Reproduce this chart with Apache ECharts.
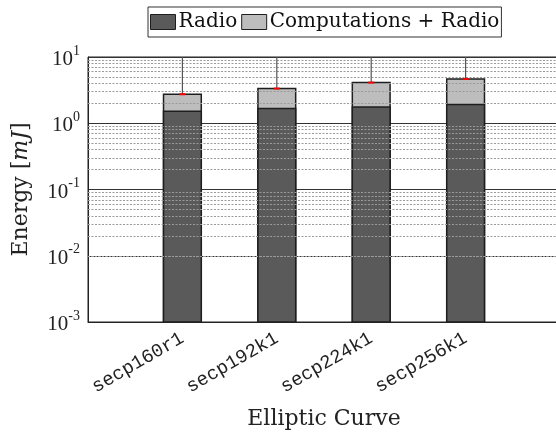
<!DOCTYPE html>
<html><head><meta charset="utf-8">
<script src="https://cdn.jsdelivr.net/npm/echarts@6/dist/echarts.min.js"></script>
<style>html,body{margin:0;padding:0;background:#fff}#c{width:556px;height:436px}</style>
</head><body><div id="c"></div>
<script>
const categories = ['secp160r1', 'secp192k1', 'secp224k1', 'secp256k1'];
const radio = [1.52, 1.67, 1.76, 1.92];
const total = [2.74, 3.34, 4.11, 4.66];
const errHigh = [12, 12, 12, 12];
const yMin = 0.001, yMax = 10;
const minorValues = [];
for (let k = -3; k <= 0; k++) for (let m = 2; m <= 9; m++) minorValues.push(m * Math.pow(10, k));

const SERIF = 'DejaVu Serif';
const NUMSERIF = 'Liberation Serif';
const DARK = '#5a5a5a', LIGHT = '#bdbdbd', EDGE = '#1e1e1e';

function barRender(color) {
  return function (params, api) {
    const x = api.value(0), v = api.value(1);
    const top = api.coord([x, v]);
    const base = api.coord([x, yMin]);
    const unit = api.coord([x + 1, v])[0] - top[0];
    const w = unit * 0.4;
    return { type: 'rect', shape: { x: top[0] - w / 2, y: top[1], width: w, height: base[1] - top[1] },
      style: { fill: color, stroke: EDGE, lineWidth: 1.5 } };
  };
}

const chart = echarts.init(document.getElementById('c'), null, { renderer: 'canvas' });
chart.setOption({
  animation: false,
  grid: { left: 88, width: 472, top: 57, bottom: 114, show: true, borderColor: '#222', borderWidth: 1,
    containLabel: false, outerBoundsMode: 'none' },
  legend: {
    left: 148, top: 7, padding: [5, 2, 5, 2], borderColor: '#333', borderWidth: 1,
    itemGap: 4, itemWidth: 25, itemHeight: 15,
    textStyle: { fontFamily: SERIF, fontSize: 20, color: '#111', padding: [0, 0, 0, -2] },
    data: [
      { name: 'Radio', icon: 'rect', itemStyle: { color: DARK, borderColor: EDGE, borderWidth: 1 } },
      { name: 'Computations + Radio', icon: 'rect', itemStyle: { color: LIGHT, borderColor: EDGE, borderWidth: 1 } }
    ]
  },
  xAxis: {
    type: 'value', min: 0, max: 5, interval: 1,
    name: 'Elliptic Curve', nameLocation: 'middle', nameGap: 86,
    nameTextStyle: { fontFamily: SERIF, fontSize: 22, color: '#222' },
    axisLine: { lineStyle: { color: '#222', width: 1 } },
    axisTick: { show: false },
    splitLine: { show: false },
    axisLabel: {
      rotate: 30, margin: 15, fontFamily: 'Liberation Mono', fontSize: 19, color: '#222',
      formatter: v => categories[v - 1] || ''
    }
  },
  yAxis: {
    type: 'log', logBase: 10, min: yMin, max: yMax, splitNumber: 4,
    name: 'Energy [{i|mJ}]', nameLocation: 'middle', nameGap: 56,
    nameTextStyle: { fontFamily: SERIF, fontSize: 22, color: '#222',
      rich: { i: { fontFamily: SERIF, fontStyle: 'italic', fontSize: 22, color: '#222' } } },
    axisLine: { show: true, lineStyle: { color: '#222', width: 1 } },
    axisTick: { show: false },
    splitLine: { show: true, lineStyle: { color: '#333', width: 1 } },
    axisLabel: {
      margin: 8, color: '#222',
      formatter: v => '{b|10}{s|' + Math.round(Math.log10(v)) + '}',
      rich: {
        b: { fontFamily: NUMSERIF, fontSize: 21, color: '#222', lineHeight: 26, verticalAlign: 'bottom' },
        s: { fontFamily: NUMSERIF, fontSize: 14, color: '#222', lineHeight: 26, verticalAlign: 'top' }
      }
    }
  },
  series: [
    {
      type: 'line', name: 'grid', data: [], silent: true, z: 1,
      markLine: { silent: true, symbol: 'none', label: { show: false },
        lineStyle: { color: '#9a9a9a', width: 1, type: [2, 1.5] },
        data: minorValues.map(v => ({ yAxis: v })) }
    },
    {
      type: 'custom', name: 'Computations + Radio', z: 3, clip: true,
      itemStyle: { color: LIGHT, borderColor: EDGE, borderWidth: 1 },
      renderItem: barRender(LIGHT),
      data: total.map((v, i) => [i + 1, v])
    },
    {
      type: 'custom', name: 'Radio', z: 4, clip: true,
      itemStyle: { color: DARK, borderColor: EDGE, borderWidth: 1 },
      renderItem: barRender(DARK),
      data: radio.map((v, i) => [i + 1, v])
    },
    {
      type: 'custom', name: 'err', z: 5, clip: true, silent: true,
      renderItem: function (params, api) {
        const x = api.value(0), lo = api.value(1), hi = api.value(2);
        const p0 = api.coord([x, lo]), p1 = api.coord([x, hi]);
        return { type: 'group', children: [
          { type: 'line', shape: { x1: p0[0], y1: p0[1], x2: p1[0], y2: p1[1] }, style: { stroke: '#555', lineWidth: 1.2 } },
          { type: 'line', shape: { x1: p0[0] - 3, y1: p0[1], x2: p0[0] + 3, y2: p0[1] }, style: { stroke: '#ff0000', lineWidth: 2 } }
        ] };
      },
      data: total.map((v, i) => [i + 1, v, errHigh[i]])
    }
  ]
});
</script></body></html>
